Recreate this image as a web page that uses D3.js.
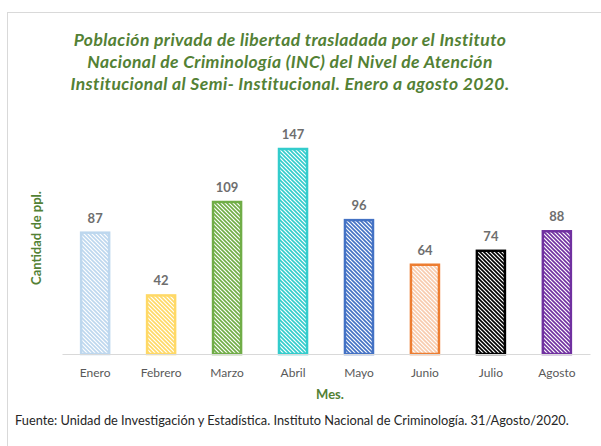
<!DOCTYPE html>
<html>
<head>
<meta charset="utf-8">
<script src="https://cdn.jsdelivr.net/npm/d3@7"></script>
<style>
body { margin:0; background:#fff; }
text { font-family: Lato, "Open Sans", sans-serif; }
</style>
</head>
<body>
<svg id="chart"></svg>
<script>
var screen = {width:601,height:446}
var margins = {top:0,right:11,left:62,bottom:0}

var months = ["Enero","Febrero","Marzo","Abril","Mayo","Junio","Julio","Agosto"]
var values = [87,42,109,147,96,64,74,88]
var strokeColors = ["#BDD7EE","#FFD966","#70AD47","#33CCCC","#4472C4","#ED7D31","#000000","#7030A0"]
var stripeColors = ["#BDD7EE","#FFD966","#70AD47","#33CCCC","#4472C4","#F8CBAD","#000000","#7030A0"]
var titleLines = ["Población privada de libertad trasladada por el Instituto",
                  "Nacional de Criminología (INC) del Nivel de Atención",
                  "Institucional al Semi- Institucional. Enero a agosto 2020."]

var green = "#538135"
var baseY = 354

var svg = d3.select("#chart")
    .attr("width",screen.width)
    .attr("height",screen.height)

// outer frame
svg.append("rect")
   .attr("x",7.5).attr("y",12.5)
   .attr("width",620).attr("height",460)
   .attr("fill","none")
   .attr("stroke","#D9D9D9")

var defs = svg.append("defs")
stripeColors.forEach(function(c,i)
{
    var p = defs.append("pattern")
       .attr("id","hatch"+i)
       .attr("patternUnits","userSpaceOnUse")
       .attr("width",4).attr("height",4)
    p.append("rect").attr("width",4).attr("height",4).attr("fill","#fff")
    p.append("path")
     .attr("d","M-1,-1 l6,6 M-1,3 l2,2 M3,-1 l2,2")
     .attr("stroke",c)
     .attr("stroke-width",1.6)
})

var xScale = d3.scaleBand()
               .domain(months)
               .range([margins.left,screen.width-margins.right])
               .paddingInner(0.575)
               .paddingOuter(0.29)
var yScale = d3.scaleLinear()
               .domain([0,147])
               .range([baseY,149])

// bars
svg.append("g")
   .selectAll("rect")
   .data(values)
   .enter()
   .append("rect")
   .attr("x",function(v,i){return xScale(months[i])})
   .attr("y",function(v){return yScale(v)})
   .attr("width",xScale.bandwidth())
   .attr("height",function(v){return baseY-yScale(v)})
   .attr("fill",function(v,i){return "url(#hatch"+i+")"})
   .attr("stroke",function(v,i){return strokeColors[i]})
   .attr("stroke-width",2.5)

// value labels
svg.append("g")
   .selectAll("text")
   .data(values)
   .enter()
   .append("text")
   .attr("x",function(v,i){return xScale(months[i])+xScale.bandwidth()/2})
   .attr("y",function(v){return yScale(v)-10})
   .attr("text-anchor","middle")
   .attr("font-size",13)
   .attr("font-weight","bold")
   .attr("fill","#6E6E6E")
   .text(function(v){return v})

// x axis
var xAxis = d3.axisBottom(xScale).tickSize(0).tickPadding(14)
var gx = svg.append("g")
   .attr("transform","translate(0,"+baseY+")")
   .call(xAxis)
gx.select(".domain").attr("stroke","#D9D9D9").attr("stroke-width",1.2)
gx.selectAll("text")
  .attr("font-family","Lato, sans-serif")
  .attr("font-size",12)
  .attr("fill","#595959")

// axis titles
svg.append("text")
   .attr("x",330).attr("y",399)
   .attr("text-anchor","middle")
   .attr("font-size",13).attr("font-weight","bold")
   .attr("fill",green)
   .text("Mes.")

svg.append("text")
   .attr("transform","translate(41,238) rotate(-90)")
   .attr("text-anchor","middle")
   .attr("font-size",13).attr("font-weight","bold")
   .attr("fill",green)
   .text("Cantidad de ppl.")

// title
svg.append("g")
   .selectAll("text")
   .data(titleLines)
   .enter()
   .append("text")
   .attr("x",290)
   .attr("y",function(d,i){return 46+i*22})
   .attr("text-anchor","middle")
   .attr("font-size",17.5)
   .attr("letter-spacing",0.4)
   .attr("font-weight","bold")
   .attr("font-style","italic")
   .attr("fill",green)
   .text(function(d){return d})

// source
svg.append("text")
   .attr("x",15).attr("y",425)
   .attr("font-size",12.8)
   .attr("fill","#262626")
   .text("Fuente: Unidad de Investigación y Estadística. Instituto Nacional de Criminología. 31/Agosto/2020.")
</script>
</body>
</html>
